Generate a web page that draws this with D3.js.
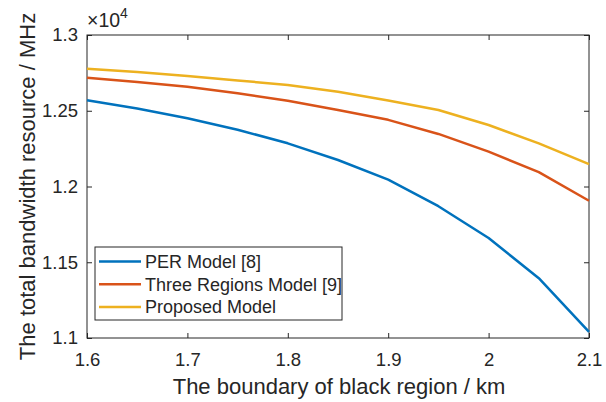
<!DOCTYPE html>
<html><head><meta charset="utf-8">
<script src="https://cdn.jsdelivr.net/npm/d3@7"></script>
<style>body{margin:0;background:#fff}svg{display:block}text{font-family:"Liberation Sans",Arial,sans-serif;fill:#262626}</style>
</head><body><svg id="c" width="606" height="402"></svg>
<script>
const xValues = [1.6, 1.65, 1.7, 1.75, 1.8, 1.85, 1.9, 1.95, 2.0, 2.05, 2.1];
const perModel = [12570, 12515, 12450, 12375, 12285, 12175, 12045, 11870, 11660, 11395, 11040];
const threeRegions = [12718, 12690, 12658, 12615, 12566, 12505, 12440, 12347, 12230, 12095, 11906];
const proposed = [12778, 12755, 12729, 12700, 12670, 12625, 12568, 12505, 12406, 12285, 12148];
const seriesNames = ["PER Model [8]", "Three Regions Model [9]", "Proposed Model"];
const seriesColors = ["#0072BD", "#D95319", "#EDB120"];
const xTicks = [1.6, 1.7, 1.8, 1.9, 2.0, 2.1];
const yTicks = [11000, 11500, 12000, 12500, 13000];
const xLabel = "The boundary of black region / km";
const yLabel = "The total bandwidth resource / MHz";

const svg = d3.select("#c");
const L = 87, R = 589, T = 35, B = 338;
const x = d3.scaleLinear().domain([1.6, 2.1]).range([L, R]);
const y = d3.scaleLinear().domain([11000, 13000]).range([B, T]);
const axisColor = "#262626";

const g = svg.append("g");
g.append("rect").attr("x", L).attr("y", T).attr("width", R - L).attr("height", B - T)
  .attr("fill", "none").attr("stroke", axisColor).attr("stroke-width", 1);

const fmtX = d => (+d.toFixed(1)).toString();
const fmtY = d => (+(d / 10000).toFixed(2)).toString();

const xAx = g.append("g").attr("transform", `translate(0,${B})`)
  .call(d3.axisBottom(x).tickValues(xTicks).tickSize(-5).tickPadding(15).tickFormat(fmtX));
const xAxTop = g.append("g").attr("transform", `translate(0,${T})`)
  .call(d3.axisTop(x).tickValues(xTicks).tickSize(-5).tickFormat(""));
const yAx = g.append("g").attr("transform", `translate(${L},0)`)
  .call(d3.axisLeft(y).tickValues(yTicks).tickSize(-5).tickPadding(9).tickFormat(fmtY));
const yAxR = g.append("g").attr("transform", `translate(${R},0)`)
  .call(d3.axisRight(y).tickValues(yTicks).tickSize(-5).tickFormat(""));
[xAx, xAxTop, yAx, yAxR].forEach(a => {
  a.select(".domain").remove();
  a.selectAll("line").attr("stroke", axisColor);
  a.selectAll("text").attr("font-size", 18.5).attr("fill", axisColor)
    .style("font-family", '"Liberation Sans",Arial,sans-serif');
});

const ex = svg.append("text").attr("x", L).attr("y", 27).attr("font-size", 19.5);
ex.append("tspan").text("×10");
ex.append("tspan").attr("dy", -9).attr("font-size", 14).text("4");

const series = [perModel, threeRegions, proposed];
const line = d3.line().x((d, i) => x(xValues[i])).y(d => y(d));
series.forEach((s, k) => {
  g.append("path").datum(s).attr("d", line).attr("fill", "none")
    .attr("stroke", seriesColors[k]).attr("stroke-width", 2.5).attr("stroke-linejoin", "round");
});

svg.append("text").attr("x", (L + R) / 2 + 1).attr("y", 394).attr("text-anchor", "middle")
  .attr("font-size", 22).text(xLabel);
svg.append("text").attr("transform", `translate(35,${(T + B) / 2}) rotate(-90)`)
  .attr("text-anchor", "middle").attr("font-size", 22).text(yLabel);

const lg = svg.append("g");
lg.append("rect").attr("x", 95).attr("y", 247).attr("width", 247).attr("height", 73)
  .attr("fill", "#fff").attr("stroke", axisColor).attr("stroke-width", 1);
seriesNames.forEach((n, k) => {
  const yy = 261.5 + k * 22.7;
  lg.append("line").attr("x1", 99).attr("x2", 141).attr("y1", yy).attr("y2", yy)
    .attr("stroke", seriesColors[k]).attr("stroke-width", 2.5);
  lg.append("text").attr("x", 145).attr("y", yy + 6.5).attr("font-size", 18).text(n);
});
</script></body></html>
